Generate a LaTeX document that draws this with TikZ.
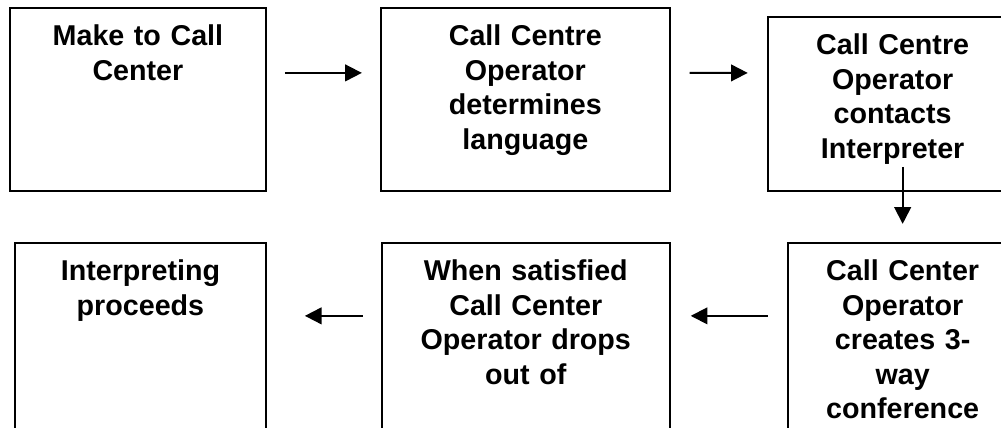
\documentclass[tikz,border=0pt]{standalone}
\usepackage{fontspec}
\setmainfont{Liberation Sans}
\usetikzlibrary{arrows.meta,positioning}
\tikzset{
    box/.style={rectangle, draw, line width=1.4pt, inner sep=0pt,
        align=center, text height=28.5pt,
        font=\bfseries\fontsize{21.5pt}{25.9pt}\selectfont},
    arrow/.style={-{Triangle[length=12.5pt,width=12.5pt]}, line width=1.4pt}
}
\begin{document}
\begin{tikzpicture}
    \useasboundingbox (0,0) rectangle (750.75pt,-321pt);
    \clip (0,0) rectangle (750.75pt,-321pt);
    \node[box, text width=192pt, text depth=108.75pt, anchor=north west] (call) at (6.75pt,-5.25pt) {Make to Call\\Center};
    \node[box, text width=216.75pt, text depth=108.75pt] (operator) [right=84.75pt of call] {Call Centre\\Operator\\determines\\language};
    \node[box, text width=187.5pt, text depth=102pt] (contact) [right=72pt of operator.south east, anchor=south west] {Call Centre\\Operator\\contacts\\Interpreter};
    \node[box, text width=172.5pt, text depth=121.5pt] (conf) [below=37.5pt of contact.south west, anchor=north west, xshift=15pt] {Call Center\\Operator\\creates 3-\\way\\conference};
    \node[box, text width=216pt, text depth=121.5pt] (drops) [below=37.5pt of operator.south west, anchor=north west, xshift=0.75pt] {When satisfied\\Call Center\\Operator drops\\out of};
    \node[box, text width=188.25pt, text depth=121.5pt] (proceeds) [below=37.5pt of call.south west, anchor=north west, xshift=3.75pt] {Interpreting\\proceeds};
    \draw[arrow, shorten <=13.5pt, shorten >=13.5pt] ([yshift=19.9pt]call.east) -- ([yshift=19.9pt]operator.west);
    \draw[arrow, shorten <=14.25pt, shorten >=14.25pt] ([yshift=19.9pt]operator.east) -- ([yshift=23.25pt]contact.west);
    \draw[arrow, shorten >=13.5pt] ([xshift=7.5pt,yshift=18.75pt]contact.south) -- (conf.north);
    \draw[arrow, shorten <=14.25pt, shorten >=15pt] ([yshift=-55.5pt]conf.north west) -- ([yshift=-55.5pt]drops.north east);
    \draw[arrow, shorten <=13.5pt, shorten >=28.5pt] ([yshift=-55.5pt]drops.north west) -- ([yshift=-55.5pt]proceeds.north east);
\end{tikzpicture}
\end{document}
